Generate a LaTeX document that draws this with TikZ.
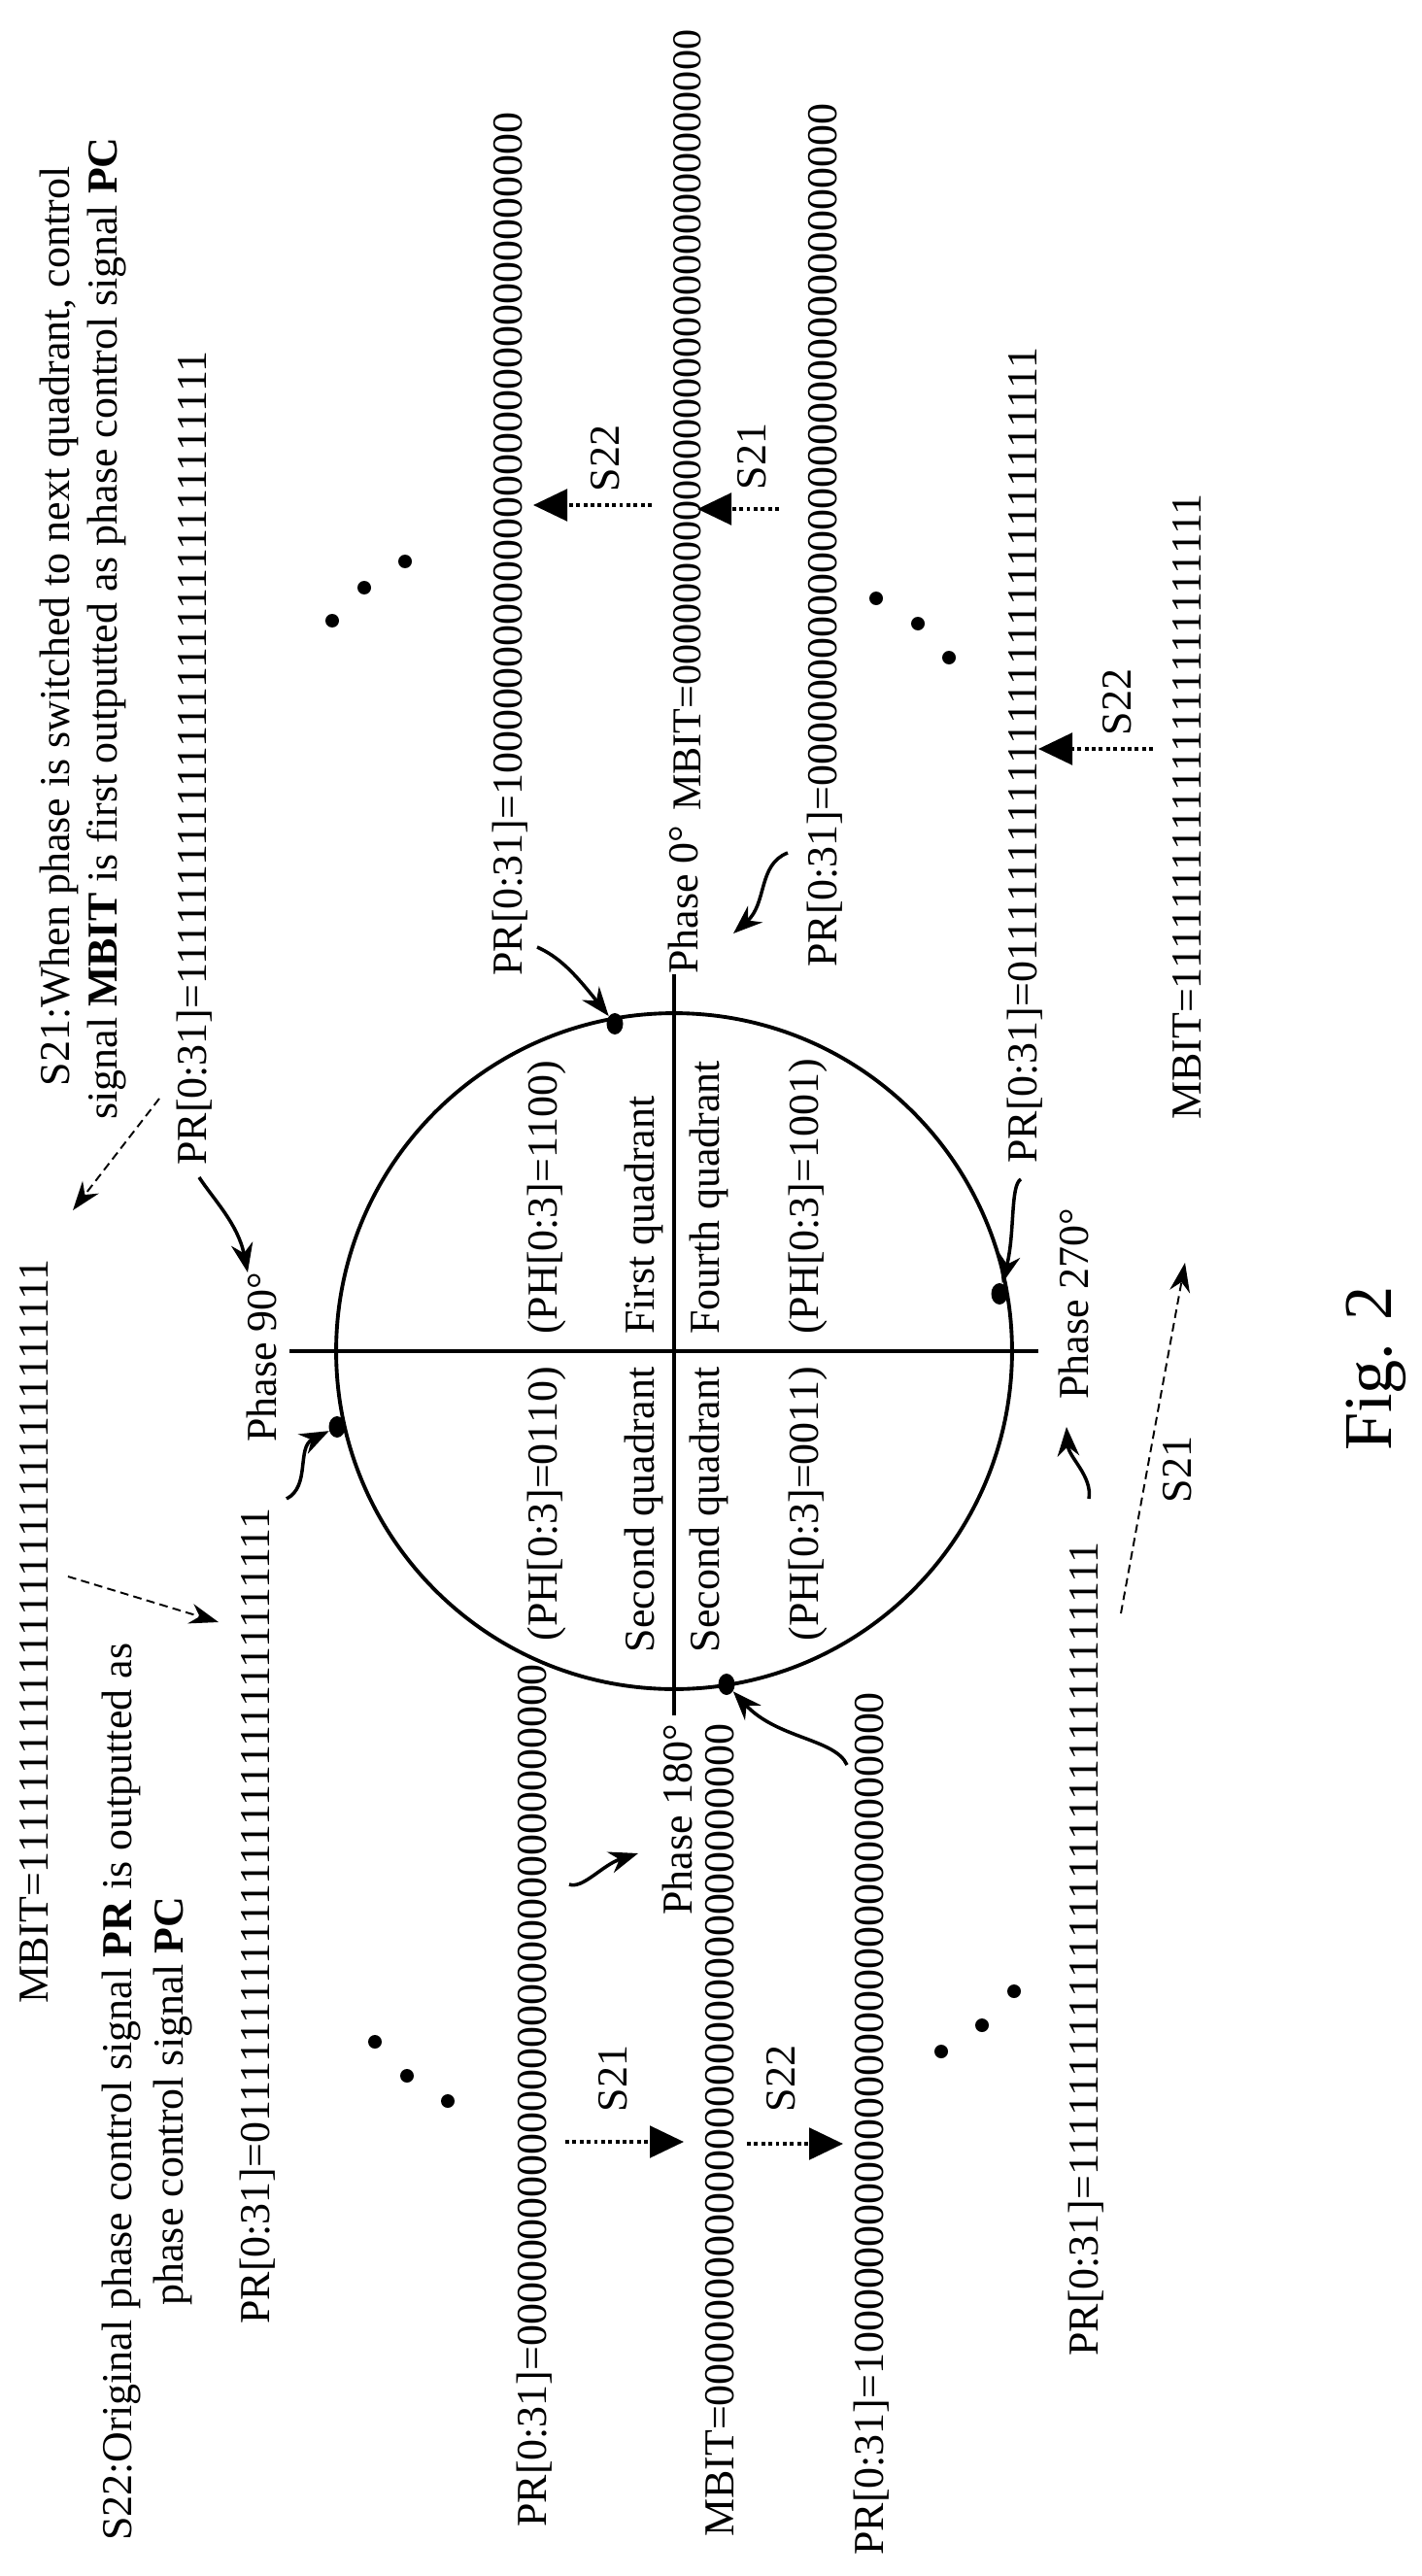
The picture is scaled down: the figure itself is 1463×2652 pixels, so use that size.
\documentclass[tikz,border=0pt]{standalone}
\usepackage{fontspec}
\setmainfont{Liberation Serif}
\usetikzlibrary{arrows.meta,shapes.geometric}
\begin{document}
\begin{tikzpicture}[x=0.02cm,y=-0.02cm,
  t/.style={rotate=90,font=\fontsize{25}{30}\selectfont,inner sep=0pt},
  tw/.style={t,anchor=west},
  te/.style={t,anchor=east},
  ax/.style={line width=2.2pt},
  edot/.style={circle,fill=black,inner sep=0pt,minimum size=0.28cm},
  cdot/.style={ellipse,fill=black,inner sep=0pt,minimum width=0.34cm,minimum height=0.44cm},
  curv/.style={line width=2pt,-{Stealth[length=0.6cm,width=0.45cm]}},
  sarr/.style={line width=2.2pt,dotted,-{Triangle[length=0.7cm,width=0.65cm]}},
  darr/.style={line width=1.1pt,dashed,dash pattern=on 5pt off 3pt,-{Stealth[length=0.6cm,width=0.42cm]}}]
\useasboundingbox (0,0) rectangle (1463,2652);
% circle and axes
\node[circle,draw,line width=2.2pt,minimum size=13.92cm,inner sep=0pt] (circ) at (694,1391) {};
\coordinate (hl) at (298,1391); \coordinate (hr) at (1069,1391);
\coordinate (vt) at (694,1003); \coordinate (vb) at (694,1766);
\draw[ax] (hl) -- (hr);
\draw[ax] (vt) -- (vb);
\node[cdot] (dT) at (633,1054) {};
\node[cdot] (dL) at (347,1469) {};
\node[cdot] (dB) at (748,1734) {};
\node[cdot] (dR) at (1029,1332) {};
% quadrant labels
\node[tw] (q1a) at (563,1374) {(PH[0:3]=1100)};
\node[te] (q2a) at (563,1407) {(PH[0:3]=0110)};
\node[tw] (q1) at (663,1374) {First quadrant};
\node[te] (q2) at (663,1407) {Second quadrant};
\node[tw] (q4) at (730,1374) {Fourth quadrant};
\node[te] (q3) at (730,1407) {Second quadrant};
\node[tw] (q4a) at (832,1374) {(PH[0:3]=1001)};
\node[te] (q3a) at (832,1407) {(PH[0:3]=0011)};
% phase labels
\node[tw] (ph90) at (269,1485) {Phase 90°};
\node[tw] (ph0) at (703,1003) {Phase 0°};
\node[tw] (ph180) at (697,1972) {Phase 180°};
\node[tw] (ph270) at (1105,1441) {Phase 270°};
% top text
\node[t] (L1) at (61,645) {S21:When phase is switched to next quadrant, control};
\node[t] (L2) at (110,647) {signal \textbf{MBIT} is first outputted as phase control signal \textbf{PC}};
\node[tw] (prA) at (200,1200) {PR[0:31]=11111111111111111111111111111111};
\node[tw] (prC) at (525,1005) {PR[0:31]=10000000000000000000000000000000};
\node[tw,font=\fontsize{24}{29}\selectfont] (mbC) at (708,835) {MBIT=00000000000000000000000000000000};
\node[tw] (prD) at (849,996) {PR[0:31]=00000000000000000000000000000000};
\node[tw] (prE) at (1055,1198) {PR[0:31]=01111111111111111111111111111111};
\node[tw] (mbR) at (1222,1153) {MBIT=1111111111111111111111111};
% bottom text
\node[tw] (mbL) at (35,2063) {MBIT=1111111111111111111111111111111};
\node[tw] (s22a) at (125,2616) {S22:Original phase control signal \textbf{PR} is outputted as};
\node[t] (s22b) at (178,2163) {phase control signal \textbf{PC}};
\node[tw] (prB) at (265,2393) {PR[0:31]=01111111111111111111111111111111};
\node[tw] (prF) at (550,2602) {PR[0:31]=00000000000000000000000000000000};
\node[tw] (mbD) at (741,2612) {MBIT=00000000000000000000000000000000};
\node[tw] (prG) at (897,2631) {PR[0:31]=10000000000000000000000000000000};
\node[tw] (prH) at (1118,2426) {PR[0:31]=11111111111111111111111111111111};
\node[rotate=90,font=\fontsize{40}{48}\selectfont] (fig) at (1417,1409) {Fig. 2};
% ellipsis dots
\node[edot] (e1) at (342,639) {}; \node[edot] (e2) at (375,605) {}; \node[edot] (e3) at (417,578) {};
\node[edot] (e4) at (902,616) {}; \node[edot] (e5) at (945,642) {}; \node[edot] (e6) at (977,677) {};
\node[edot] (e7) at (386,2102) {}; \node[edot] (e8) at (419,2137) {}; \node[edot] (e9) at (461,2163) {};
\node[edot] (e10) at (969,2112) {}; \node[edot] (e11) at (1011,2085) {}; \node[edot] (e12) at (1044,2050) {};
% S labels and short dotted arrows
\node[t] (lS22a) at (623,472) {S22};
\node[t] (lS21a) at (774,470) {S21};
\node[t] (lS22b) at (1150,723) {S22};
\node[t] (lS21c) at (631,2140) {S21};
\node[t] (lS22c) at (804,2140) {S22};
\node[t] (lS21d) at (1212,1513) {S21};
\coordinate (a1s) at (671,520); \coordinate (a1e) at (549,520);
\coordinate (a2s) at (802,524); \coordinate (a2e) at (718,524);
\coordinate (a3s) at (1187,771); \coordinate (a3e) at (1069,771);
\coordinate (a4s) at (582,2205); \coordinate (a4e) at (704,2205);
\coordinate (a5s) at (769,2207); \coordinate (a5e) at (868,2207);
\draw[sarr] (a1s) -- (a1e);
\draw[sarr] (a2s) -- (a2e);
\draw[sarr] (a3s) -- (a3e);
\draw[sarr] (a4s) -- (a4e);
\draw[sarr] (a5s) -- (a5e);
% long dashed arrows
\coordinate (b1s) at (164,1131); \coordinate (b1e) at (75,1246);
\coordinate (b2s) at (70,1623); \coordinate (b2e) at (225,1670);
\coordinate (b3s) at (1154,1661); \coordinate (b3e) at (1220,1300);
\draw[darr] (b1s) -- (b1e);
\draw[darr] (b2s) -- (b2e);
\draw[darr] (b3s) -- (b3e);
% curved arrows
\coordinate (c1s) at (205,1212); \coordinate (c1e) at (255,1310);
\draw[curv] (c1s) .. controls (220,1235) and (245,1260) .. (c1e);
\coordinate (c2s) at (295,1543);
\draw[curv] (c2s) .. controls (320,1530) and (305,1490) .. (dL);
\coordinate (c3s) at (553,975);
\draw[curv] (c3s) .. controls (575,985) and (590,1000) .. (dT);
\coordinate (c4s) at (811,878); \coordinate (c4e) at (755,961);
\draw[curv] (c4s) .. controls (780,890) and (790,930) .. (c4e);
\coordinate (c5s) at (586,1940); \coordinate (c5e) at (657,1908);
\draw[curv] (c5s) .. controls (600,1945) and (620,1920) .. (c5e);
\coordinate (c6s) at (872,1817);
\draw[curv] (c6s) .. controls (860,1790) and (800,1790) .. (dB);
\coordinate (c7s) at (1121,1543); \coordinate (c7e) at (1098,1469);
\draw[curv] (c7s) .. controls (1125,1520) and (1100,1500) .. (c7e);
\coordinate (c8s) at (1051,1214);
\draw[curv] (c8s) .. controls (1040,1220) and (1045,1270) .. (dR);
\end{tikzpicture}
\end{document}
